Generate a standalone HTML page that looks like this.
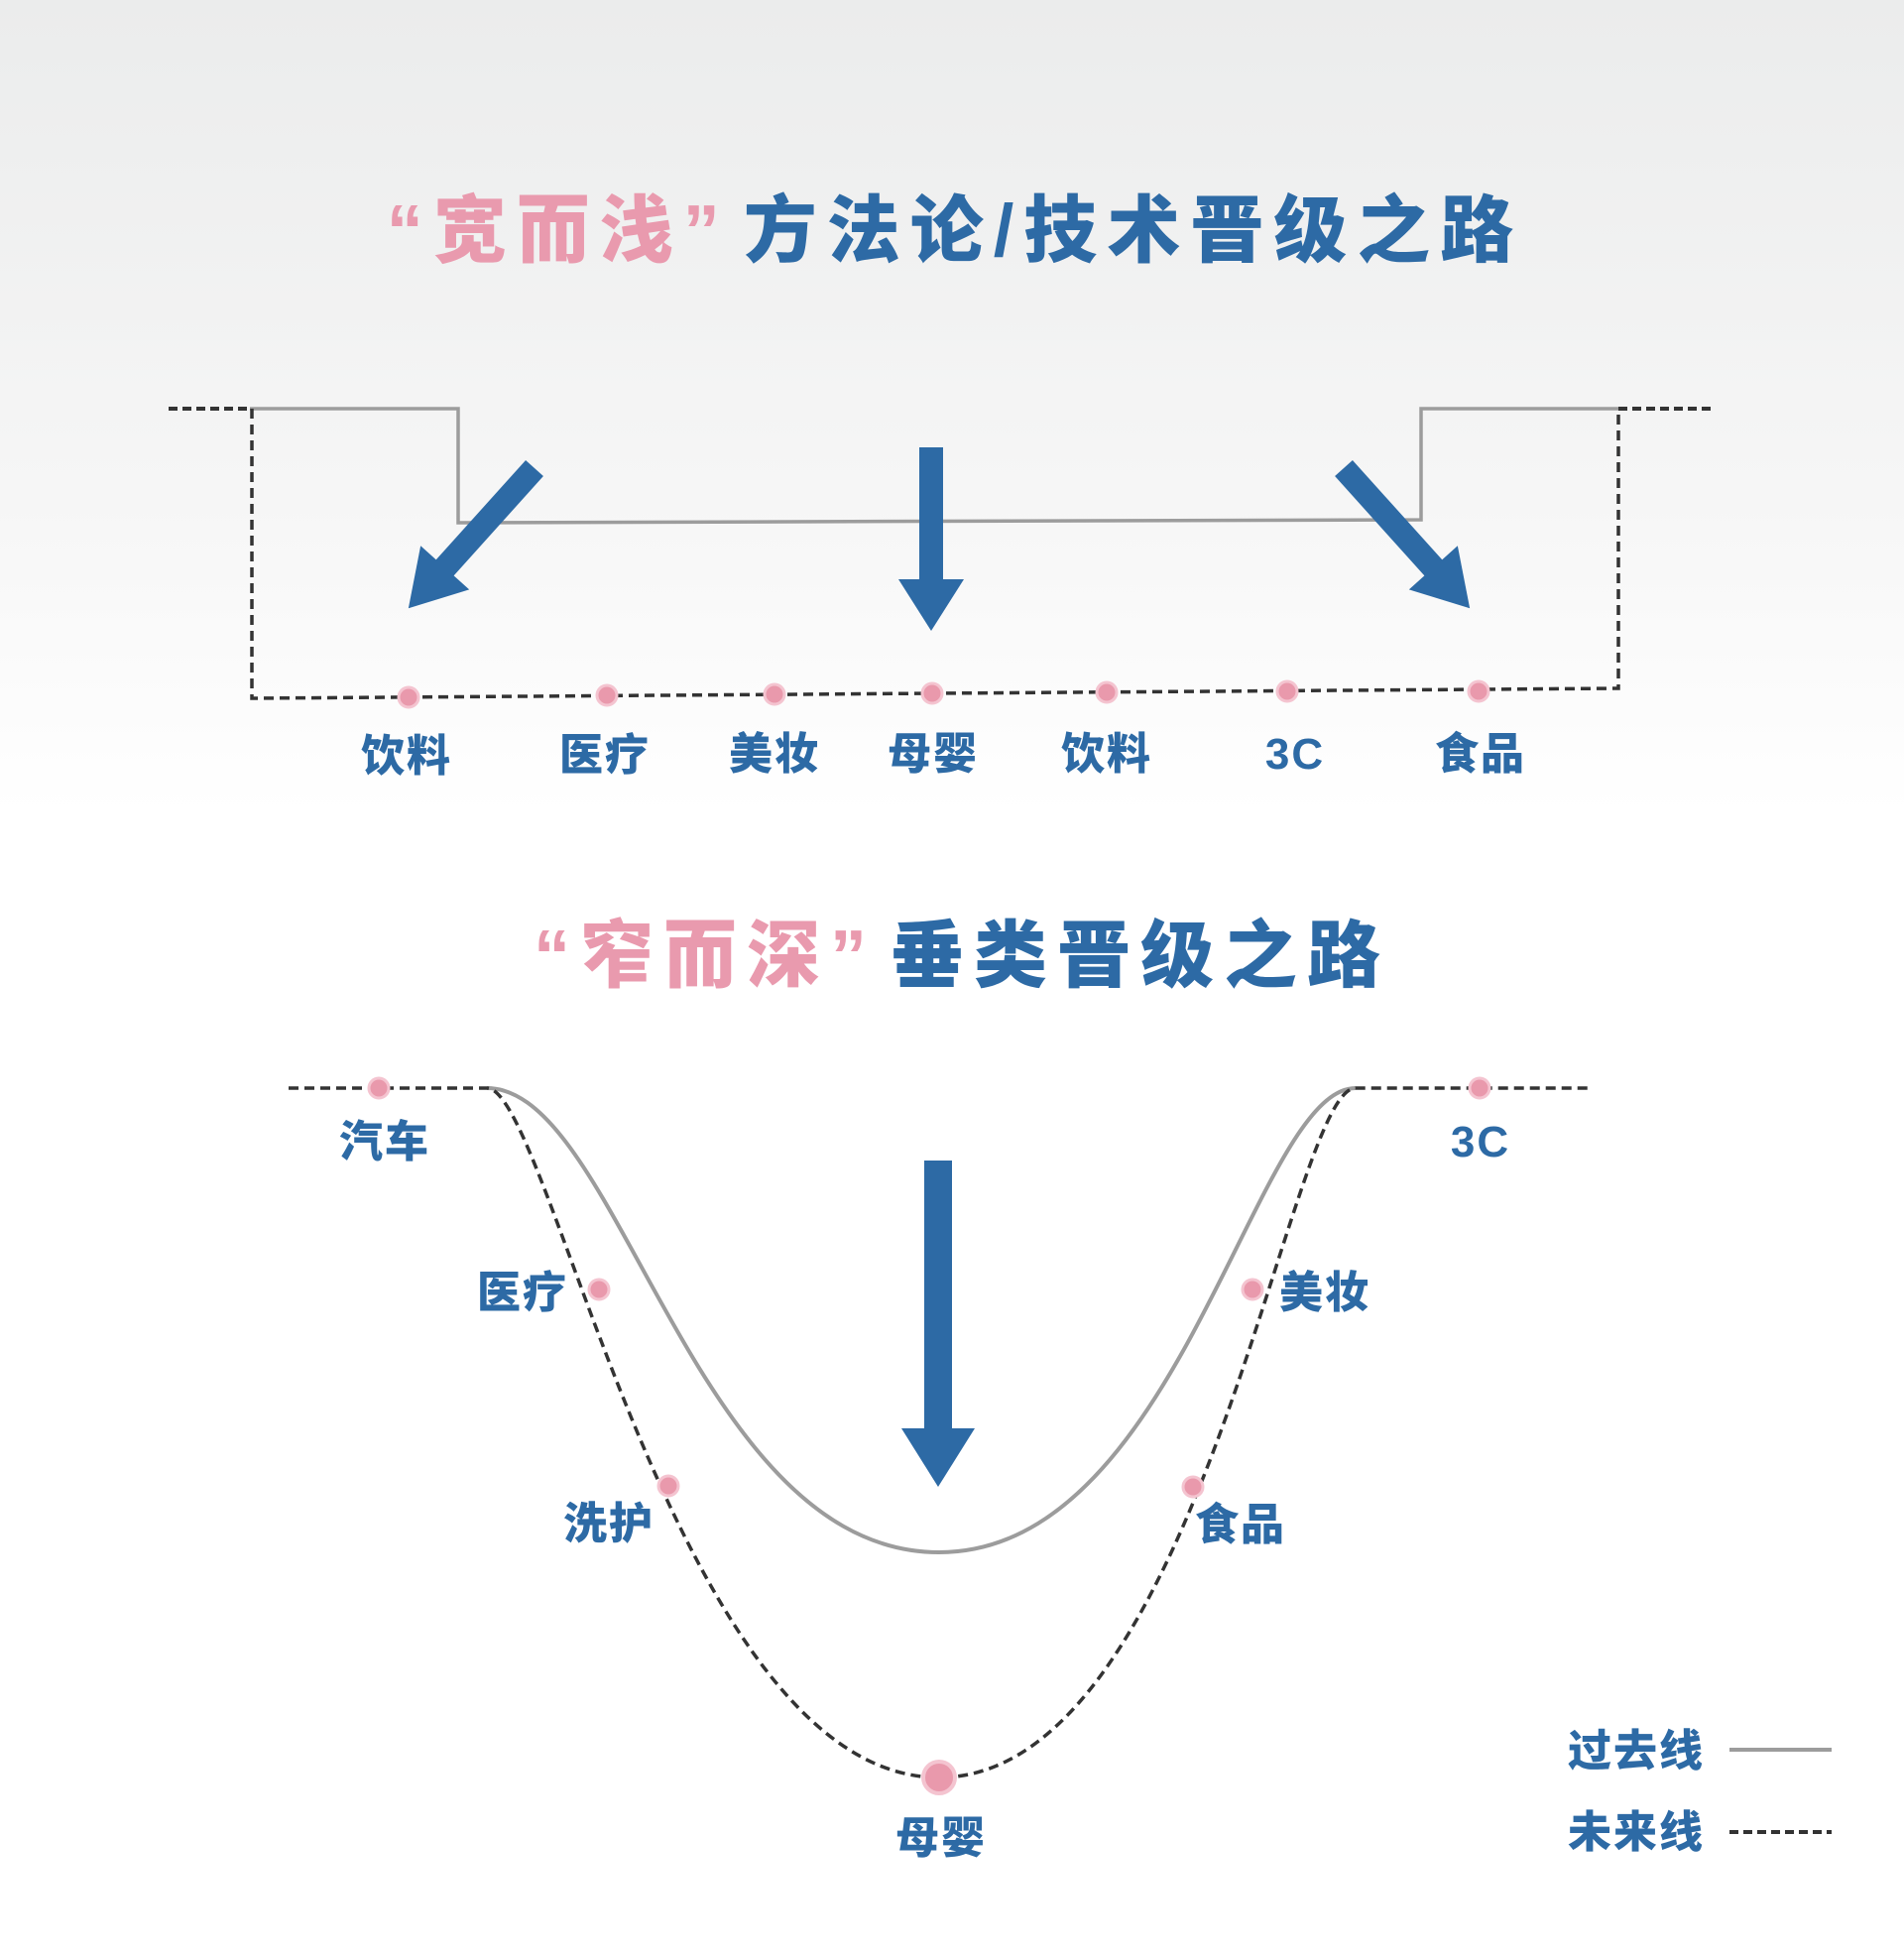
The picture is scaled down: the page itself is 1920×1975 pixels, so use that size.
<!DOCTYPE html>
<html><head><meta charset="utf-8"><style>
html,body{margin:0;padding:0}
body{width:1920px;height:1975px;background:linear-gradient(#ebecec 0px,#f6f6f6 500px,#ffffff 820px,#fff 1975px);position:relative;overflow:hidden;font-family:"Liberation Sans","Noto Sans CJK SC",sans-serif}
svg{position:absolute;left:0;top:0}
</style></head><body>
<svg width="1920" height="1975" viewBox="0 0 1920 1975" font-family="'Liberation Sans','Noto Sans CJK SC',sans-serif" font-weight="900">
<g font-size="74" text-anchor="middle" letter-spacing="10">
<text x="963" y="258"><tspan fill="#e99aae">“宽而浅”</tspan><tspan fill="#2d6aa5" dx="14">方法论/技术晋级之路</tspan></text>
<text x="970" y="989"><tspan fill="#e99aae">“窄而深”</tspan><tspan fill="#2d6aa5" dx="14">垂类晋级之路</tspan></text>
</g>
<!-- top gray -->
<polyline points="252,412 462,412 462,527 1433,524 1433,412 1632,412" fill="none" stroke="#9c9c9c" stroke-width="3.5"/>
<polyline points="170,412 252,412" stroke="#333" stroke-width="4" stroke-dasharray="9,5"/>
<polyline points="1632,412 1729,412" stroke="#333" stroke-width="4" stroke-dasharray="9,5"/>
<polyline points="254,412 254,704 1632,694 1632,412" fill="none" stroke="#333" stroke-width="3.5" stroke-dasharray="10,6"/>
<g fill="#e999ac" stroke="#f4c4d0" stroke-width="3">
<circle cx="412" cy="703" r="10"/><circle cx="612" cy="701" r="10"/><circle cx="781" cy="700" r="10"/><circle cx="940" cy="699" r="10"/><circle cx="1116" cy="698" r="10"/><circle cx="1298" cy="697" r="10"/><circle cx="1491" cy="697" r="10"/>
</g>
<g fill="#2d6aa5" font-size="44" text-anchor="middle" letter-spacing="2">
<text x="410" y="777">饮料</text><text x="610" y="776">医疗</text><text x="781" y="775">美妆</text><text x="941" y="775">母婴</text><text x="1116" y="775">饮料</text><text x="1306" y="775">3C</text><text x="1493" y="775">食品</text>
</g>
<!-- arrows -->
<g fill="#2d6aa5">
<g transform="translate(939,451)"><rect x="-12" y="0" width="24" height="135"/><polygon points="-33,133 33,133 0,185"/></g>
<g transform="translate(539,472) rotate(42)"><rect x="-12" y="0" width="24" height="140"/><polygon points="-33,135 33,135 0,190"/></g>
<g transform="translate(1355,472) rotate(-42)"><rect x="-12" y="0" width="24" height="140"/><polygon points="-33,135 33,135 0,190"/></g>
<g transform="translate(946,1170)"><rect x="-14" y="0" width="28" height="272"/><polygon points="-37,270 37,270 0,329"/></g>
</g>
<!-- bottom curves -->
<path d="M491 1097 C 625 1097, 700 1565, 947 1565 C 1190 1565, 1265 1097, 1367 1097" fill="none" stroke="#9c9c9c" stroke-width="4"/>
<path d="M291 1097 L491 1097 C 555 1097, 680 1792, 947 1792 C 1210 1792, 1300 1097, 1367 1097 L1606 1097" fill="none" stroke="#333" stroke-width="3.5" stroke-dasharray="10,6"/>
<g fill="#e999ac" stroke="#f4c4d0" stroke-width="3">
<circle cx="382" cy="1097" r="10"/><circle cx="604" cy="1300" r="10"/><circle cx="674" cy="1498" r="10"/><circle cx="1203" cy="1499" r="10"/><circle cx="1263" cy="1300" r="10"/><circle cx="1492" cy="1097" r="10"/>
<circle cx="947" cy="1792" r="16" stroke-width="4"/>
</g>
<g fill="#2d6aa5" font-size="44" text-anchor="middle" letter-spacing="2">
<text x="388" y="1166">汽车</text><text x="527" y="1318">医疗</text><text x="614" y="1551">洗护</text><text x="949" y="1868">母婴</text><text x="1251" y="1552">食品</text><text x="1336" y="1318">美妆</text><text x="1493" y="1166">3C</text>
<text x="1650" y="1780">过去线</text><text x="1650" y="1862">未来线</text>
</g>
<line x1="1744" y1="1764" x2="1847" y2="1764" stroke="#9c9c9c" stroke-width="4"/>
<line x1="1744" y1="1847" x2="1847" y2="1847" stroke="#333" stroke-width="4" stroke-dasharray="9,5"/>
</svg>
</body></html>
